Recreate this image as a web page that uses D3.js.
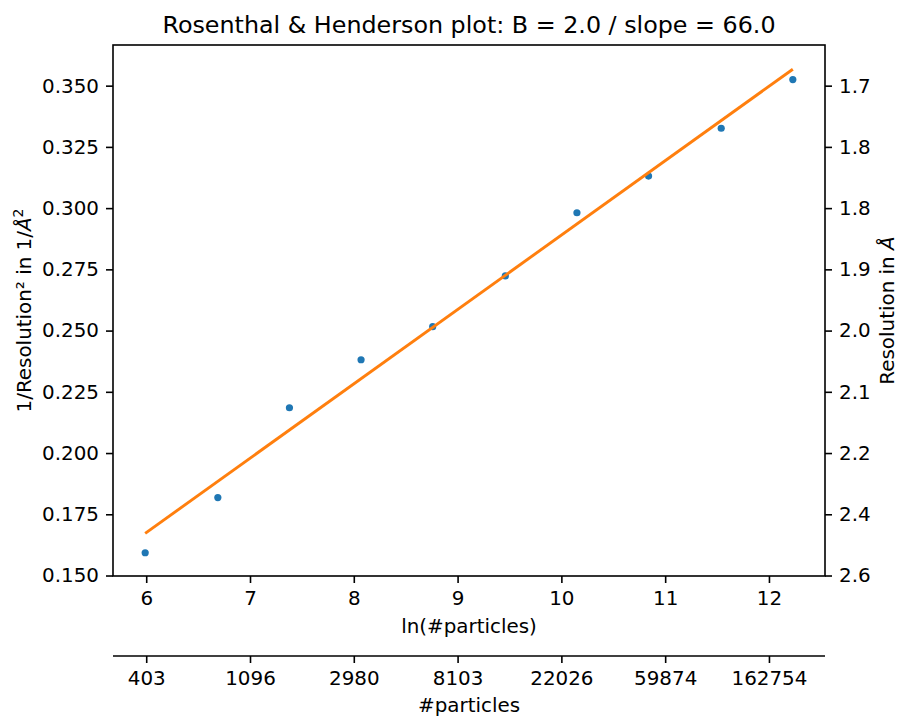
<!DOCTYPE html>
<html><head><meta charset="utf-8">
<script src="https://cdn.jsdelivr.net/npm/d3@7"></script>
<style>
body{margin:0;background:#fff;}
svg{font-family:"DejaVu Sans",sans-serif;}
</style></head>
<body><svg id="c" width="899" height="717"></svg>
<script>
const lnParticles = [5.99, 6.69, 7.38, 8.07, 8.76, 9.46, 10.15, 10.84, 11.54, 12.23];
const invRes2 = [0.1593, 0.1818, 0.2185, 0.2381, 0.2516, 0.2723, 0.2981, 0.3131, 0.3326, 0.3525];
const fitX = [5.99, 12.23];
const fitY = [0.1672, 0.3567];
const xTicks = [6, 7, 8, 9, 10, 11, 12];
const particleTickLabels = ["403", "1096", "2980", "8103", "22026", "59874", "162754"];
const yTicks = [0.150, 0.175, 0.200, 0.225, 0.250, 0.275, 0.300, 0.325, 0.350];
const resTickLabels = ["2.6", "2.4", "2.2", "2.1", "2.0", "1.9", "1.8", "1.8", "1.7"];

const L = 113, R = 825, T = 45, B = 576;
const svg = d3.select("#c");
const x = d3.scaleLinear().domain([5.68, 12.54]).range([L, R]);
const y = d3.scaleLinear().domain([0.1498, 0.3666]).range([B, T]);
const fs = 19.9;

function styleAxis(g){
  g.selectAll("path.domain").remove();
  g.selectAll(".tick line").attr("stroke","#000").attr("stroke-width",1.6);
  g.selectAll(".tick text").attr("fill","#000").attr("font-size",fs).attr("font-family","DejaVu Sans");
}

// bottom axis
const gx = svg.append("g").attr("transform",`translate(0,${B})`)
  .call(d3.axisBottom(x).tickValues(xTicks).tickFormat(d3.format("d")).tickSize(7).tickPadding(8));
styleAxis(gx);
// left axis
const gy = svg.append("g").attr("transform",`translate(${L},0)`)
  .call(d3.axisLeft(y).tickValues(yTicks).tickFormat(d3.format(".3f")).tickSize(7).tickPadding(7));
styleAxis(gy);
// right axis
const gr = svg.append("g").attr("transform",`translate(${R},0)`)
  .call(d3.axisRight(y).tickValues(yTicks).tickFormat((d,i)=>resTickLabels[i]).tickSize(7).tickPadding(7));
styleAxis(gr);
// second bottom axis
const g2 = svg.append("g").attr("transform",`translate(0,656)`)
  .call(d3.axisBottom(x).tickValues(xTicks).tickFormat((d,i)=>particleTickLabels[i]).tickSize(7).tickPadding(8));
styleAxis(g2);
svg.append("line").attr("x1",L).attr("x2",R).attr("y1",656).attr("y2",656).attr("stroke","#000").attr("stroke-width",1.6);

// frame
svg.append("rect").attr("x",L).attr("y",T).attr("width",R-L).attr("height",B-T)
  .attr("fill","none").attr("stroke","#000").attr("stroke-width",1.6);

// points
svg.append("g").selectAll("circle").data(lnParticles).join("circle")
  .attr("cx",d=>x(d)).attr("cy",(d,i)=>y(invRes2[i])).attr("r",3.6).attr("fill","#1f77b4");
// fit line
svg.append("path").datum(fitX.map((d,i)=>[d,fitY[i]]))
  .attr("d",d3.line().x(d=>x(d[0])).y(d=>y(d[1])))
  .attr("fill","none").attr("stroke","#ff7f0e").attr("stroke-width",2.9);

// title
svg.append("text").attr("x",(L+R)/2).attr("y",33).attr("text-anchor","middle")
  .attr("font-size",23.8).text("Rosenthal & Henderson plot: B = 2.0 / slope = 66.0");
// x labels
svg.append("text").attr("x",(L+R)/2).attr("y",633).attr("text-anchor","middle")
  .attr("font-size",fs).text("ln(#particles)");
svg.append("text").attr("x",(L+R)/2).attr("y",712).attr("text-anchor","middle")
  .attr("font-size",fs).text("#particles");
// left y label
const ly = svg.append("text").attr("transform",`translate(31,${(T+B)/2}) rotate(-90)`)
  .attr("text-anchor","middle").attr("font-size",fs);
ly.append("tspan").text("1/Resolution² in 1/");
ly.append("tspan").attr("font-style","italic").text("Å");
ly.append("tspan").attr("font-size",fs*0.7).attr("dy",-8).text("2");
// right y label
const ry = svg.append("text").attr("transform",`translate(894,${(T+B)/2}) rotate(-90)`)
  .attr("text-anchor","middle").attr("font-size",fs);
ry.append("tspan").text("Resolution in ");
ry.append("tspan").attr("font-style","italic").text("Å");
</script></body></html>
